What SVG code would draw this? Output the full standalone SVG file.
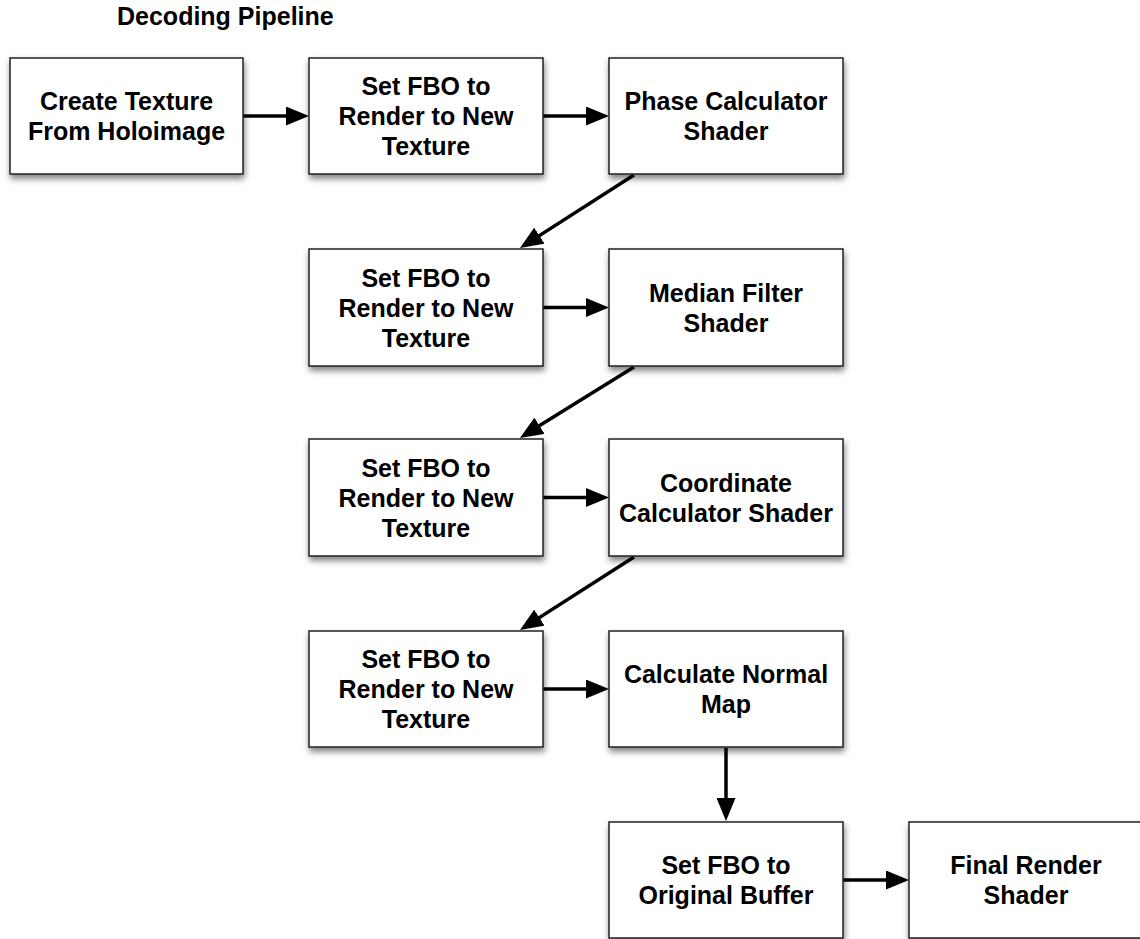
<svg xmlns="http://www.w3.org/2000/svg" width="1140" height="939" viewBox="0 0 1140 939">
<defs>
<style>
.box{fill:#fff;stroke:#222;stroke-width:1.5;filter:url(#sh)}
.t{font-family:"Liberation Sans",Arial,Helvetica,sans-serif;font-weight:bold;font-size:25px;fill:#000;text-anchor:middle}
.title{font-family:"Liberation Sans",Arial,Helvetica,sans-serif;font-weight:bold;font-size:25px;fill:#000}
.a{stroke:#000;stroke-width:3.5;fill:none;marker-end:url(#ah)}
</style>
<filter id="sh" x="-10%" y="-10%" width="125%" height="135%">
<feDropShadow dx="1" dy="4" stdDeviation="3" flood-color="#000" flood-opacity="0.5"/>
</filter>
<marker id="ah" markerUnits="userSpaceOnUse" markerWidth="23" markerHeight="19" refX="13" refY="9.5" orient="auto" viewBox="0 0 23 19">
<path d="M0,0 L23,9.5 L0,19 z" fill="#000"/>
</marker>
</defs>
<rect width="1140" height="939" fill="#fff"/>
<text class="title" x="117" y="25">Decoding Pipeline</text>

<g id="connectors">
<line class="a" x1="243" y1="116" x2="299" y2="116"/>
<line class="a" x1="543" y1="116" x2="599" y2="116"/>
<line class="a" x1="634" y1="175" x2="528.4" y2="242.6"/>
<line class="a" x1="543" y1="307.5" x2="599" y2="307.5"/>
<line class="a" x1="634" y1="367" x2="528.4" y2="432.6"/>
<line class="a" x1="543" y1="497.5" x2="599" y2="497.5"/>
<line class="a" x1="634" y1="557" x2="528.4" y2="624.6"/>
<line class="a" x1="543" y1="689" x2="599" y2="689"/>
<line class="a" x1="726" y1="748" x2="726" y2="811"/>
<line class="a" x1="843" y1="880" x2="899" y2="880"/>
</g>

<g id="create-texture">
<rect class="box" x="10" y="58" width="233" height="116"/>
<text class="t" x="126.5" y="110">Create Texture</text>
<text class="t" x="126.5" y="140">From Holoimage</text>
</g>
<g id="set-fbo-1">
<rect class="box" x="309" y="58" width="234" height="116"/>
<text class="t" x="426" y="95">Set FBO to</text>
<text class="t" x="426" y="125">Render to New</text>
<text class="t" x="426" y="155">Texture</text>
</g>
<g id="phase-calculator">
<rect class="box" x="609" y="58" width="234" height="116"/>
<text class="t" x="726" y="110">Phase Calculator</text>
<text class="t" x="726" y="140">Shader</text>
</g>
<g id="set-fbo-2">
<rect class="box" x="309" y="249" width="234" height="117"/>
<text class="t" x="426" y="286.5">Set FBO to</text>
<text class="t" x="426" y="316.5">Render to New</text>
<text class="t" x="426" y="346.5">Texture</text>
</g>
<g id="median-filter">
<rect class="box" x="609" y="249" width="234" height="117"/>
<text class="t" x="726" y="301.5">Median Filter</text>
<text class="t" x="726" y="331.5">Shader</text>
</g>
<g id="set-fbo-3">
<rect class="box" x="309" y="439" width="234" height="117"/>
<text class="t" x="426" y="476.5">Set FBO to</text>
<text class="t" x="426" y="506.5">Render to New</text>
<text class="t" x="426" y="536.5">Texture</text>
</g>
<g id="coordinate-calculator">
<rect class="box" x="609" y="439" width="234" height="117"/>
<text class="t" x="726" y="491.5">Coordinate</text>
<text class="t" x="726" y="521.5">Calculator Shader</text>
</g>
<g id="set-fbo-4">
<rect class="box" x="309" y="631" width="234" height="116"/>
<text class="t" x="426" y="668">Set FBO to</text>
<text class="t" x="426" y="698">Render to New</text>
<text class="t" x="426" y="728">Texture</text>
</g>
<g id="calculate-normal-map">
<rect class="box" x="609" y="631" width="234" height="116"/>
<text class="t" x="726" y="683">Calculate Normal</text>
<text class="t" x="726" y="713">Map</text>
</g>
<g id="set-fbo-original">
<rect class="box" x="609" y="822" width="234" height="116"/>
<text class="t" x="726" y="874">Set FBO to</text>
<text class="t" x="726" y="904">Original Buffer</text>
</g>
<g id="final-render">
<rect class="box" x="909" y="822" width="234" height="116"/>
<text class="t" x="1026" y="874">Final Render</text>
<text class="t" x="1026" y="904">Shader</text>
</g>
</svg>
